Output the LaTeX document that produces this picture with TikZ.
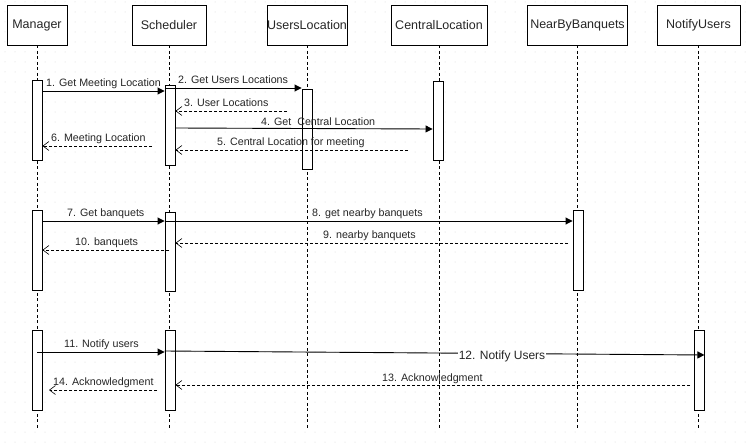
\documentclass[tikz,border=0pt]{standalone}
\usepackage{fontspec}
\setmainfont{Liberation Sans}
\usetikzlibrary{arrows.meta}
\begin{document}
\begin{tikzpicture}[x=1pt,y=-1pt,
  hdr/.style={draw, line width=0.9pt, fill=white, inner sep=0pt, minimum height=40pt, font=\fontsize{12.5}{14}\selectfont, text=black!85},
  bar/.style={draw, line width=0.9pt, fill=white, inner sep=0pt, minimum width=10pt},
  life/.style={line width=0.8pt, dash pattern=on 3pt off 2.5pt},
  msg/.style={line width=0.9pt, -{Triangle[length=7pt,width=7pt]}},
  ret/.style={line width=0.8pt, dash pattern=on 3pt off 2pt, -{Straight Barb[length=6pt,width=9pt,line width=0.6pt]}},
  lbl/.style={inner sep=0pt, anchor=base west, font=\fontsize{10.7}{12}\selectfont, text=black!85}]
\fill[white] (0,0) rectangle (747,444);
\useasboundingbox (0,0) rectangle (747,444);
% dotted background grid
\foreach \i in {0,...,74} {
  \foreach \j in {0,...,44} {
    \fill[black!16] (\i*10+5,\j*10+2) circle (0.5pt);
  }
}
% headers
\node[hdr, minimum width=60pt] (mgr) at (37,25) {Manager};
\node[hdr, minimum width=74pt] (sch) at (169,25) {Scheduler};
\node[hdr, minimum width=80pt] (usl) at (307,25) {UsersLocation};
\node[hdr, minimum width=96pt] (cen) at (439,25) {CentralLocation};
\node[hdr, minimum width=100pt] (nbb) at (577.5,25) {NearByBanquets};
\node[hdr, minimum width=83pt] (ntf) at (698.5,25) {NotifyUsers};
% lifelines
\foreach \n in {mgr,sch,usl,cen,nbb,ntf} {
  \draw[life] (\n.south) -- (\n.south |- 0,430);
}
% activation bars
\node[bar, minimum height=80pt] (a1) at (37,120) {};
\node[bar, minimum height=80pt] (s1) at (170,125) {};
\node[bar, minimum height=80pt] (u1) at (307,129) {};
\node[bar, minimum height=79pt] (c1) at (438,120.5) {};
\node[bar, minimum height=80pt] (a2) at (37,250) {};
\node[bar, minimum height=79pt] (s2) at (170,251.5) {};
\node[bar, minimum height=80pt] (n2) at (578,250) {};
\node[bar, minimum height=80pt] (a3) at (37,370) {};
\node[bar, minimum height=80pt] (s3) at (170,370) {};
\node[bar, minimum height=80pt] (u3) at (699,370) {};
% free ends of return messages
\coordinate (r3) at (287,111);
\coordinate (r5) at (408,150);
\coordinate (r6) at (152,146);
\coordinate (r9) at (568,243);
\coordinate (r10) at (169,250);
\coordinate (r13) at (690,385);
\coordinate (r14a) at (157,390);
\coordinate (r14b) at (49,390);
% section 1
\draw[msg] (a1.east |- 0,91) -- (s1.west |- 0,91);
\node[lbl] (l1) at (46,86) {1. Get Meeting Location};
\draw[msg] (s1.west |- 0,88) -- (u1.west |- 0,88);
\node[lbl] (l2) at (178,84) {2. Get Users Locations};
\draw[ret] (r3) -- (s1.east |- r3);
\node[lbl] (l3) at (184,106.5) {3. User Locations};
\draw[msg] (s1.east |- 0,128) -- (c1.west |- 0,129);
\node[lbl] (l4) at (261,125) {4. Get\ \ Central Location};
\draw[ret] (r5) -- (s1.east |- r5);
\node[lbl] (l5) at (217,145) {5. Central Location for meeting};
\draw[ret] (r6) -- (a1.east |- r6);
\node[lbl] (l6) at (51,141) {6. Meeting Location};
% section 2
\draw[msg] (a2.east |- 0,221) -- (s2.west |- 0,221);
\node[lbl] (l7) at (67,216) {7. Get banquets};
\draw[msg] (s2.west |- 0,221) -- (n2.west |- 0,221);
\node[lbl] (l8) at (312,216) {8. get nearby banquets};
\draw[ret] (r9) -- (s2.east |- r9);
\node[lbl] (l9) at (323,238) {9. nearby banquets};
\draw[ret] (r10) -- (a2.east |- r10);
\node[lbl] (l10) at (75,245) {10. banquets};
% section 3
\draw[msg] (a3.center |- 0,352) -- (s3.west |- 0,352);
\node[lbl] (l11) at (64,347) {11. Notify users};
\draw[msg] (s3.west |- 0,351) -- node[pos=0.625, yshift=-3pt, fill=white, inner sep=1pt, font=\fontsize{12}{14}\selectfont, text=black!85] (l12) {12. Notify Users} (u3.east |- 0,355);
\draw[ret] (r13) -- (s3.east |- r13);
\node[lbl] (l13) at (382,381) {13. Acknowledgment};
\draw[ret] (r14a) -- (r14b);
\node[lbl] (l14) at (53,385) {14. Acknowledgment};
\end{tikzpicture}
\end{document}
